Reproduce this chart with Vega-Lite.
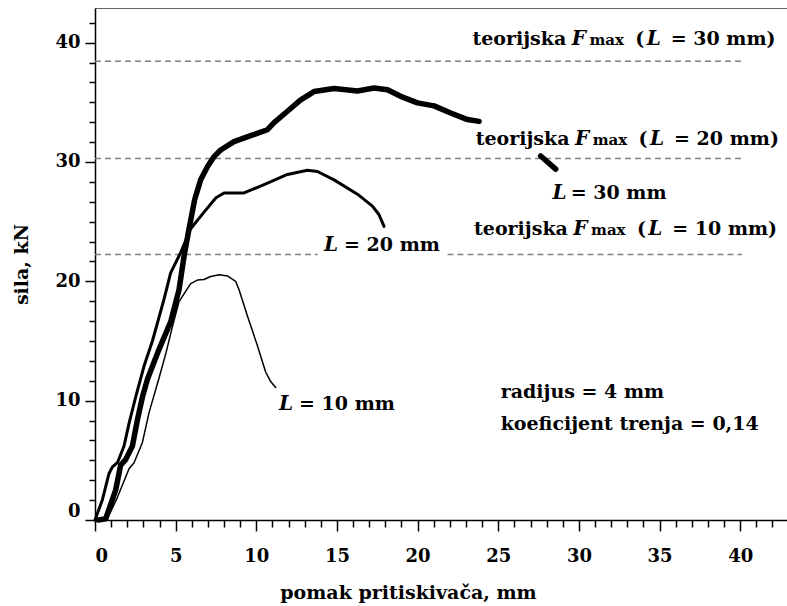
{
  "$schema": "https://vega.github.io/schema/vega-lite/v6.json",
  "width": 692,
  "height": 512,
  "autosize": "none",
  "padding": {"left": 95, "top": 8, "right": 0, "bottom": 86},
  "background": "white",
  "config": {
    "view": {"stroke": "#666666", "strokeWidth": 1},
    "font": "DejaVu Serif"
  },
  "datasets": {
    "refs": [
      {"x": 0, "x2": 40.1, "y": 38.44},
      {"x": 0, "x2": 40.1, "y": 30.28},
      {"x": 0, "x2": 13.8, "y": 22.24},
      {"x": 21.85, "x2": 40.1, "y": 22.24}
    ],
    "curves": [
      {"s": "L10", "g": "L10", "x": 0.5, "y": 0},
      {"s": "L10", "g": "L10", "x": 0.77, "y": 0.1},
      {"s": "L10", "g": "L10", "x": 1.39, "y": 1.9},
      {"s": "L10", "g": "L10", "x": 2.11, "y": 4.3},
      {"s": "L10", "g": "L10", "x": 2.42, "y": 4.8},
      {"s": "L10", "g": "L10", "x": 2.94, "y": 6.5},
      {"s": "L10", "g": "L10", "x": 3.35, "y": 9.0},
      {"s": "L10", "g": "L10", "x": 3.97, "y": 11.9},
      {"s": "L10", "g": "L10", "x": 4.4, "y": 14.0},
      {"s": "L10", "g": "L10", "x": 4.8, "y": 16.2},
      {"s": "L10", "g": "L10", "x": 5.21, "y": 18.3},
      {"s": "L10", "g": "L10", "x": 5.5, "y": 18.9},
      {"s": "L10", "g": "L10", "x": 5.93, "y": 19.8},
      {"s": "L10", "g": "L10", "x": 6.35, "y": 20.1},
      {"s": "L10", "g": "L10", "x": 6.76, "y": 20.15},
      {"s": "L10", "g": "L10", "x": 7.17, "y": 20.4},
      {"s": "L10", "g": "L10", "x": 7.69, "y": 20.55},
      {"s": "L10", "g": "L10", "x": 8.21, "y": 20.45},
      {"s": "L10", "g": "L10", "x": 8.72, "y": 20.0},
      {"s": "L10", "g": "L10", "x": 8.93, "y": 19.3},
      {"s": "L10", "g": "L10", "x": 9.45, "y": 17.1},
      {"s": "L10", "g": "L10", "x": 10.07, "y": 14.6},
      {"s": "L10", "g": "L10", "x": 10.58, "y": 12.4},
      {"s": "L10", "g": "L10", "x": 10.89, "y": 11.6},
      {"s": "L10", "g": "L10", "x": 11.2, "y": 11.1},
      {"s": "L20", "g": "L20", "x": 0.0, "y": 0},
      {"s": "L20", "g": "L20", "x": 0.46, "y": 1.7},
      {"s": "L20", "g": "L20", "x": 0.87, "y": 3.9},
      {"s": "L20", "g": "L20", "x": 1.08, "y": 4.45},
      {"s": "L20", "g": "L20", "x": 1.39, "y": 4.8},
      {"s": "L20", "g": "L20", "x": 1.8, "y": 6.2},
      {"s": "L20", "g": "L20", "x": 2.11, "y": 8.1},
      {"s": "L20", "g": "L20", "x": 2.52, "y": 10.3},
      {"s": "L20", "g": "L20", "x": 3.04, "y": 12.9},
      {"s": "L20", "g": "L20", "x": 3.56, "y": 15.0},
      {"s": "L20", "g": "L20", "x": 4.28, "y": 18.5},
      {"s": "L20", "g": "L20", "x": 4.69, "y": 20.7},
      {"s": "L20", "g": "L20", "x": 5.31, "y": 22.4},
      {"s": "L20", "g": "L20", "x": 5.93, "y": 24.4},
      {"s": "L20", "g": "L20", "x": 6.76, "y": 25.8},
      {"s": "L20", "g": "L20", "x": 7.5, "y": 27.0},
      {"s": "L20", "g": "L20", "x": 8.0, "y": 27.4},
      {"s": "L20", "g": "L20", "x": 9.24, "y": 27.4},
      {"s": "L20", "g": "L20", "x": 10.48, "y": 28.1},
      {"s": "L20", "g": "L20", "x": 11.93, "y": 28.95},
      {"s": "L20", "g": "L20", "x": 13.17, "y": 29.3},
      {"s": "L20", "g": "L20", "x": 13.79, "y": 29.2},
      {"s": "L20", "g": "L20", "x": 14.82, "y": 28.5},
      {"s": "L20", "g": "L20", "x": 16.27, "y": 27.3},
      {"s": "L20", "g": "L20", "x": 17.2, "y": 26.3},
      {"s": "L20", "g": "L20", "x": 17.6, "y": 25.6},
      {"s": "L20", "g": "L20", "x": 17.92, "y": 24.6},
      {"s": "L30", "g": "L30a", "x": 0.2, "y": 0},
      {"s": "L30", "g": "L30a", "x": 0.66, "y": 0.1},
      {"s": "L30", "g": "L30a", "x": 1.28, "y": 2.5},
      {"s": "L30", "g": "L30a", "x": 1.59, "y": 4.6},
      {"s": "L30", "g": "L30a", "x": 1.9, "y": 5.06},
      {"s": "L30", "g": "L30a", "x": 2.32, "y": 6.2},
      {"s": "L30", "g": "L30a", "x": 2.63, "y": 8.4},
      {"s": "L30", "g": "L30a", "x": 2.94, "y": 10.3},
      {"s": "L30", "g": "L30a", "x": 3.25, "y": 11.8},
      {"s": "L30", "g": "L30a", "x": 3.97, "y": 14.3},
      {"s": "L30", "g": "L30a", "x": 4.69, "y": 16.6},
      {"s": "L30", "g": "L30a", "x": 5.21, "y": 19.3},
      {"s": "L30", "g": "L30a", "x": 5.52, "y": 22.1},
      {"s": "L30", "g": "L30a", "x": 5.83, "y": 24.4},
      {"s": "L30", "g": "L30a", "x": 6.18, "y": 26.85},
      {"s": "L30", "g": "L30a", "x": 6.55, "y": 28.5},
      {"s": "L30", "g": "L30a", "x": 6.97, "y": 29.6},
      {"s": "L30", "g": "L30a", "x": 7.38, "y": 30.45},
      {"s": "L30", "g": "L30a", "x": 7.79, "y": 31.0},
      {"s": "L30", "g": "L30a", "x": 8.62, "y": 31.7},
      {"s": "L30", "g": "L30a", "x": 9.65, "y": 32.2},
      {"s": "L30", "g": "L30a", "x": 10.69, "y": 32.7},
      {"s": "L30", "g": "L30a", "x": 11.1, "y": 33.3},
      {"s": "L30", "g": "L30a", "x": 11.93, "y": 34.25},
      {"s": "L30", "g": "L30a", "x": 12.75, "y": 35.2},
      {"s": "L30", "g": "L30a", "x": 13.58, "y": 35.9},
      {"s": "L30", "g": "L30a", "x": 14.82, "y": 36.15},
      {"s": "L30", "g": "L30a", "x": 16.27, "y": 35.95},
      {"s": "L30", "g": "L30a", "x": 17.3, "y": 36.2},
      {"s": "L30", "g": "L30a", "x": 18.13, "y": 36.05},
      {"s": "L30", "g": "L30a", "x": 18.95, "y": 35.5},
      {"s": "L30", "g": "L30a", "x": 19.99, "y": 34.95},
      {"s": "L30", "g": "L30a", "x": 21.02, "y": 34.7},
      {"s": "L30", "g": "L30a", "x": 22.05, "y": 34.1},
      {"s": "L30", "g": "L30a", "x": 23.09, "y": 33.55},
      {"s": "L30", "g": "L30a", "x": 23.81, "y": 33.4},
      {"s": "L30", "g": "L30b", "x": 27.63, "y": 30.5},
      {"s": "L30", "g": "L30b", "x": 28.56, "y": 29.4}
    ],
    "upright": [
      {"x": 23.4, "y": 39.78, "t": "teorijska"},
      {"x": 33.5, "y": 39.78, "t": "("},
      {"x": 35.69, "y": 39.78, "t": "= 30 mm)"},
      {"x": 23.6, "y": 31.4, "t": "teorijska"},
      {"x": 33.7, "y": 31.4, "t": "("},
      {"x": 35.9, "y": 31.4, "t": "= 20 mm)"},
      {"x": 23.5, "y": 23.91, "t": "teorijska"},
      {"x": 33.6, "y": 23.91, "t": "("},
      {"x": 35.79, "y": 23.91, "t": "= 10 mm)"},
      {"x": 29.49, "y": 26.93, "t": "= 30 mm"},
      {"x": 15.44, "y": 22.51, "t": "= 20 mm"},
      {"x": 12.65, "y": 9.25, "t": "= 10 mm"},
      {"x": 25.15, "y": 10.26, "t": "radijus = 4 mm"},
      {"x": 25.15, "y": 7.57, "t": "koeficijent trenja = 0,14"}
    ],
    "italic": [
      {"x": 29.55, "y": 39.78, "t": "F"},
      {"x": 34.2, "y": 39.78, "t": "L"},
      {"x": 29.75, "y": 31.4, "t": "F"},
      {"x": 34.4, "y": 31.4, "t": "L"},
      {"x": 29.65, "y": 23.91, "t": "F"},
      {"x": 34.3, "y": 23.91, "t": "L"},
      {"x": 28.36, "y": 26.93, "t": "L"},
      {"x": 14.2, "y": 22.51, "t": "L"},
      {"x": 11.41, "y": 9.25, "t": "L"}
    ],
    "small": [
      {"x": 30.65, "y": 39.78, "t": "max"},
      {"x": 30.85, "y": 31.4, "t": "max"},
      {"x": 30.75, "y": 23.91, "t": "max"}
    ]
  },
  "encoding": {
    "x": {
      "field": "x",
      "type": "quantitative",
      "scale": {"domain": [0, 42.9], "nice": false, "zero": false},
      "axis": {
        "title": "pomak pritiskivača, mm",
        "titleFont": "DejaVu Serif",
        "titleFontWeight": "bold",
        "titleFontSize": 19,
        "titleColor": "black",
        "titleX": 313,
        "titleY": 78,
        "titleAlign": "center",
        "titleBaseline": "alphabetic",
        "values": [0,1,2,3,4,5,6,7,8,9,10,11,12,13,14,15,16,17,18,19,20,21,22,23,24,25,26,27,28,29,30,31,32,33,34,35,36,37,38,39,40,41,42],
        "labelExpr": "datum.value % 5 === 0 ? datum.label : ''",
        "labelOverlap": false,
        "labelFlush": true,
        "labelFont": "DejaVu Serif",
        "labelFontWeight": "bold",
        "labelFontSize": 18,
        "labelColor": "black",
        "labelPadding": 16,
        "grid": false,
        "domainColor": "black",
        "domainWidth": 1.5,
        "tickColor": "black",
        "tickWidth": 1.5,
        "tickSize": {"condition": {"test": "datum.value % 5 === 0", "value": 11}, "value": 7}
      }
    },
    "y": {
      "field": "y",
      "type": "quantitative",
      "scale": {"domain": [0, 42.9], "nice": false, "zero": false},
      "axis": {
        "title": "sila, kN",
        "titleFont": "DejaVu Serif",
        "titleFontWeight": "bold",
        "titleFontSize": 19,
        "titleColor": "black",
        "titleAngle": -90,
        "titleX": -74,
        "titleY": 256,
        "titleAlign": "center",
        "titleBaseline": "middle",
        "values": [0,1.6667,3.3333,5,6.6667,8.3333,10,11.6667,13.3333,15,16.6667,18.3333,20,21.6667,23.3333,25,26.6667,28.3333,30,31.6667,33.3333,35,36.6667,38.3333,40,41.6667],
        "labelExpr": "datum.value % 10 === 0 ? datum.label : ''",
        "labelOverlap": false,
        "labelFlush": true,
        "labelFont": "DejaVu Serif",
        "labelFontWeight": "bold",
        "labelFontSize": 18,
        "labelColor": "black",
        "labelPadding": 5,
        "grid": false,
        "domainColor": "black",
        "domainWidth": 1.5,
        "tickColor": "black",
        "tickWidth": 1.5,
        "tickSize": {"condition": {"test": "datum.value % 10 === 0", "value": 10}, "value": 6}
      }
    }
  },
  "layer": [
    {
      "data": {"name": "refs"},
      "mark": {"type": "rule", "color": "#808080", "strokeWidth": 1.5, "strokeDash": [6, 4]},
      "encoding": {"x2": {"field": "x2"}}
    },
    {
      "data": {"name": "curves"},
      "mark": {"type": "line", "color": "black", "strokeCap": "round", "strokeJoin": "round"},
      "encoding": {
        "detail": {"field": "g"},
        "strokeWidth": {"field": "s", "type": "nominal", "scale": {"type": "ordinal", "domain": ["L10", "L20", "L30"], "range": [1.5, 3, 5.5]}, "legend": null}
      }
    },
    {
      "data": {"name": "upright"},
      "mark": {"type": "text", "align": "left", "baseline": "alphabetic", "font": "DejaVu Serif", "fontWeight": "bold", "fontSize": 19, "color": "black"},
      "encoding": {"text": {"field": "t"}}
    },
    {
      "data": {"name": "italic"},
      "mark": {"type": "text", "align": "left", "baseline": "alphabetic", "font": "DejaVu Serif", "fontWeight": "bold", "fontStyle": "italic", "fontSize": 20, "color": "black"},
      "encoding": {"text": {"field": "t"}}
    },
    {
      "data": {"name": "small"},
      "mark": {"type": "text", "align": "left", "baseline": "alphabetic", "font": "DejaVu Serif", "fontWeight": "bold", "fontSize": 15, "color": "black"},
      "encoding": {"text": {"field": "t"}}
    }
  ]
}
